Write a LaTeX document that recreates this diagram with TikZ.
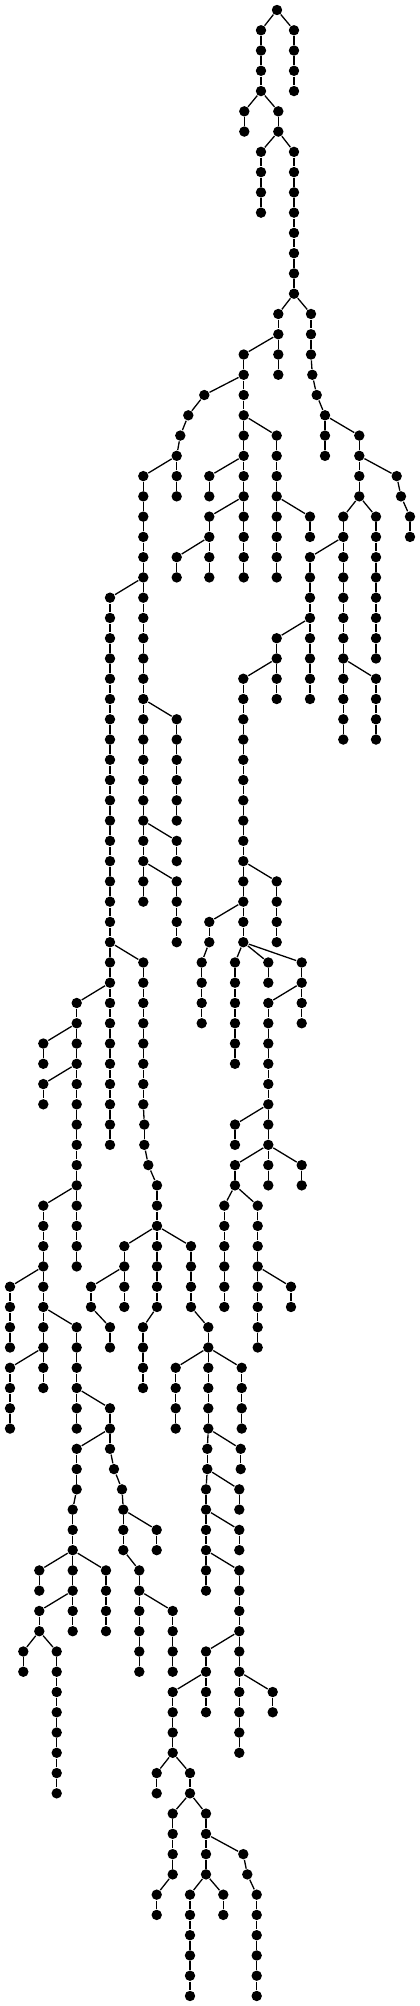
\documentclass[tikz,border=0pt]{standalone}
\tikzset{dot/.style={circle,fill,inner sep=0pt,minimum size=10.4pt}}
\begin{document}
\begin{tikzpicture}[x=1pt,y=-1pt,line width=1.3pt]
\useasboundingbox (0,0) rectangle (420,2006);
\node[dot] (r-0) at (277,10) {};
%branch/x/first level/last level/parent
\foreach \bn/\px/\lfrom/\lto/\up in {
  a/261/1/4/r-0, b/294/1/4/r-0, c/244.3/5/6/a-4, d/278.3/5/6/a-4,
  e/261/7/10/d-6, f/294/7/14/d-6, g/278.3/15/18/f-14, i/311/15/17/f-14,
  ib/312.3/18/18/i-17, ic/316.7/19/19/ib-18, id/325/20/22/ic-19,
  h/243.7/17/28/g-16, j/204.3/19/19/h-18, jb/188.3/20/20/j-19,
  jc/180.3/21/21/jb-20, k/176.7/22/24/jc-21, l/143.3/23/44/k-22,
  m/110/29/56/l-28, n/176.7/35/40/l-34, o/176.7/41/42/l-40, p/176.7/43/46/l-42,
  q/143.3/47/54/m-46, qb/144.3/55/56/q-54, qc/148.3/57/57/qb-56, qd/157/58/64/qc-57,
  s/76.7/49/62/m-48, u/43.3/51/52/s-50, v/43.3/53/54/s-52, w/43.3/59/68/s-58,
  xa/10/63/66/w-62, xb/10/67/70/w-66, y/76.7/65/70/w-64, z/110/69/71/y-68,
  aa/76.7/71/73/z-70, ab/72.7/74/80/aa-73, ac/39.3/77/78/ab-76, ad/106/77/80/ab-76,
  ae/39.3/79/80/ab-78, af/23.3/81/82/ae-80, ag/56.7/81/88/ae-80,
  ah/114/72/72/z-71, ai/122/73/73/ah-72, aj/123.3/74/76/ai-73, ak/156.7/75/76/aj-74,
  al/139.3/77/82/aj-76, am/172.7/79/82/al-78,
  t/143/65/68/qd-64, an/124.3/61/64/qd-60, ap/91/63/64/an-62, aq/110/65/66/ap-64,
  ao/191/61/64/qd-60, ar/208.3/65/70/ao-64, au/175.7/67/70/ar-66, av/241.7/67/70/ar-66,
  as/207.3/71/72/ar-70, aw/240.7/71/72/ar-70, at/206/73/78/as-72, ax/239.3/73/74/as-72,
  ay/239.3/75/76/at-74, az/239.3/77/86/at-76, ba/206/81/84/az-80, bb/272.7/83/84/az-82,
  bc/172.7/83/86/ba-82, bd/156.7/87/88/bc-86, be/190/87/88/bc-86,
  bf/172.7/89/92/be-88, bg/156.7/93/94/bf-92, bh/206/89/92/be-88,
  bi/243.3/91/91/bh-90, bj/247.3/92/92/bi-91, bk/256.7/93/98/bj-92,
  bl/190/93/98/bh-92, bm/223.3/93/94/bh-92,
  bn/276.7/21/28/h-20, bo/209.3/23/24/h-22, bp/209.3/25/26/h-24,
  br/176.7/27/28/bp-26, bs/209.3/27/28/bp-26, bq/310/25/26/bn-24,
  bt/359.3/21/24/id-20, bu/396.7/23/23/bt-22, bv/401/24/24/bu-23, bw/410/25/26/bv-24,
  bx/343.3/25/36/bt-24, ca/376/25/32/bt-24, bz/376/33/36/bx-32, by/310/27/34/bx-26,
  cb/276.7/31/34/by-30, cc/243.3/33/46/cb-32, cd/276.7/43/46/cc-42, ce/209.3/45/46/cc-44,
  ci/201.7/47/50/ce-46, cf/235/47/52/cc-46, cg/268.3/47/48/cc-46, ch/301.7/47/50/cc-46,
  cj/268.3/49/58/ch-48, ck/235/55/56/cj-54, cl/235/57/58/cj-56, cm/301.7/57/58/cj-56,
  cn/224.3/59/64/cl-58, co/257.7/59/66/cl-58, cp/291/63/64/co-62}{
  \foreach \lv in {\lfrom,...,\lto}{
    \pgfmathtruncatemacro\lk{\lv-1}
    \node[dot] (\bn-\lv) at (\px,{10+20.265*\lv}) {};
    \ifnum\lv=\lfrom\relax \draw (\up) -- (\bn-\lv); \else \draw (\bn-\lk) -- (\bn-\lv); \fi
  }
}
\end{tikzpicture}
\end{document}
